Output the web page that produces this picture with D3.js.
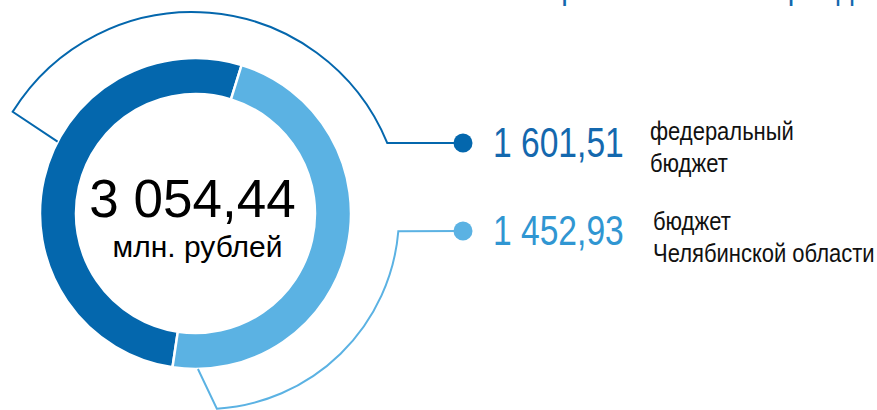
<!DOCTYPE html>
<html>
<head>
<meta charset="utf-8">
<script src="https://cdn.jsdelivr.net/npm/d3@7"></script>
<style>
  body { margin: 0; background: #fff; }
  svg { display: block; }
</style>
</head>
<body>
<svg id="chart" width="877" height="410"></svg>
<script>
// chart data
const categories = ['federal', 'regional']
const values = [1601.51, 1452.93]
const labelLines = [['федеральный', 'бюджет'], ['бюджет', 'Челябинской области']]
const unitLabel = 'млн. рублей'
const titleText = 'Привлечено на период'

const segColors = ['#0467ad', '#5bb2e3']
const valueColors = ['#1468ae', '#3096d2']

const ru = d3.formatLocale({ decimal: ',', thousands: '\u00a0', grouping: [3], currency: ['', ' ₽'] })
const fmt = ru.format(',.2f')

const width = 877
const height = 410
const cx = 195.5
const cy = 213.5
const rInner = 119.5
const rOuter = 155.5
const rad = deg => deg * Math.PI / 180
const sans = '"Liberation Sans", Arial, sans-serif'

const svg = d3.select('#chart')

// title, mostly above the visible area (narrow face faked with scaleX)
svg.append('text')
  .attr('transform', 'translate(540,-1.5) scale(0.82,1)')
  .attr('fill', '#1468ae')
  .style('font-family', sans)
  .style('font-size', '36px')
  .text(titleText)

const pie = d3.pie()
  .sort(null)
  .startAngle(rad(-171.5))
  .endAngle(rad(188.5))

const arcs = pie(values)

const arc = d3.arc()
  .innerRadius(rInner)
  .outerRadius(rOuter)

const g = svg.append('g')
  .attr('transform', `translate(${cx},${cy})`)

g.selectAll('path.seg')
  .data(arcs)
  .join('path')
  .attr('class', 'seg')
  .attr('d', arc)
  .attr('fill', (d, i) => segColors[i])
  .attr('stroke', '#fff')
  .attr('stroke-width', 2.5)

// centre text
g.append('text')
  .attr('x', -3)
  .attr('y', 3)
  .attr('text-anchor', 'middle')
  .style('font-family', sans)
  .style('font-size', '53px')
  .attr('fill', '#000')
  .text(fmt(d3.sum(values)))

g.append('text')
  .attr('x', 2)
  .attr('y', 43)
  .attr('text-anchor', 'middle')
  .style('font-family', sans)
  .style('font-size', '30px')
  .attr('fill', '#000')
  .text(unitLabel)

// legend rows
const rowY = d3.scalePoint()
  .domain(categories)
  .range([143, 231])

const dotX = 463

// bracket outlines round the donut, each ends in a leader to its dot
const brackets = [
  { dx: -3.5, dy: 9.5, r: 211, a0: -148.2, a1: -22.3, edge: -152.5, ccw: false },
  { dx: 9.5, dy: 1.5, r: 194, a0: 86.5, a1: 4.8, edge: 89.1, ccw: true }
]

brackets.forEach((b, i) => {
  const ox = cx + b.dx
  const oy = cy + b.dy
  const p = d3.path()
  p.moveTo(cx + rOuter * Math.cos(rad(b.edge)), cy + rOuter * Math.sin(rad(b.edge)))
  p.lineTo(ox + b.r * Math.cos(rad(b.a0)), oy + b.r * Math.sin(rad(b.a0)))
  p.arc(ox, oy, b.r, rad(b.a0), rad(b.a1), b.ccw)
  p.lineTo(dotX, rowY(categories[i]))
  svg.append('path')
    .attr('d', p.toString())
    .attr('fill', 'none')
    .attr('stroke', segColors[i])
    .attr('stroke-width', 2)
})

const rows = svg.selectAll('g.row')
  .data(categories)
  .join('g')
  .attr('class', 'row')
  .attr('transform', d => `translate(0,${rowY(d)})`)

rows.append('circle')
  .attr('cx', dotX)
  .attr('cy', 0)
  .attr('r', 9.5)
  .attr('fill', (d, i) => segColors[i])

rows.append('text')
  .attr('transform', 'translate(493,14) scale(0.8,1)')
  .attr('fill', (d, i) => valueColors[i])
  .style('font-family', sans)
  .style('font-size', '42px')
  .text((d, i) => fmt(values[i]))

rows.append('text')
  .attr('transform', (d, i) => `translate(${i === 0 ? 650 : 653},${i === 0 ? -3 : -1}) scale(0.88,1)`)
  .attr('fill', '#111')
  .style('font-family', sans)
  .style('font-size', '25px')
  .selectAll('tspan')
  .data((d, i) => labelLines[i])
  .join('tspan')
  .attr('x', 0)
  .attr('dy', (d, j) => j === 0 ? 0 : 32)
  .text(d => d)
</script>
</body>
</html>
